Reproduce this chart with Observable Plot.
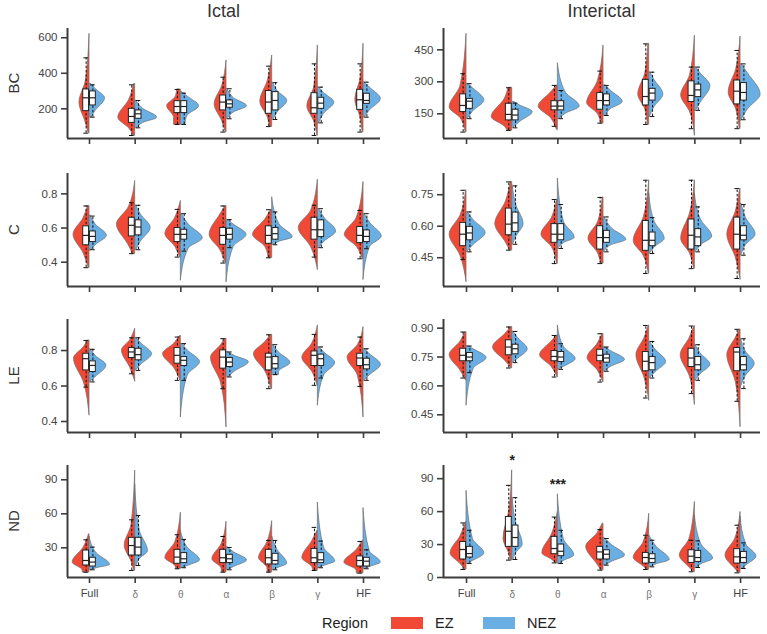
<!DOCTYPE html>
<html><head><meta charset="utf-8">
<script src="https://cdn.jsdelivr.net/npm/d3@7"></script>
<script src="https://cdn.jsdelivr.net/npm/@observablehq/plot@0.6"></script>
<style>
body{margin:0;background:#fff;}
#chart{position:relative;width:767px;height:634px;font-family:"Liberation Sans",Arial,sans-serif;overflow:hidden;}
#chart svg{position:absolute;}
</style></head><body><div id="chart"></div>
<script>
const categories = ["Full","δ","θ","α","β","γ","HF"];
const regions = ["EZ","NEZ"];
const regionColors = ["#F04A36","#69AFE4"];
const columnTitles = ["Ictal","Interictal"];
const metricLabels = ["BC","C","LE","ND"];

// half-violin shape per category: [lo, widthAtLo, bodyLo, mode, bodyHi, hi, widthAtHi, maxWidth]
// box per category: [whiskerLo, q1, median, q3, whiskerHi]
const ictalBC_EZ_shape = [[63,0.02,120,235,360,622,0,0.22],[50,0.03,90,150,250,341,0.02,0.37],[112,0.15,150,215,270,309,0.08,0.3],[69,0.02,130,225,330,472,0,0.26],[100,0.05,150,240,360,500,0,0.26],[50,0.01,130,215,320,557,0,0.23],[69,0.02,150,250,370,566,0,0.18]];
const ictalBC_NEZ_shape = [[153,0.05,185,258,315,341,0.03,0.34],[93,0.05,120,150,200,247,0.02,0.48],[112,0.1,160,215,270,294,0.03,0.4],[144,0.03,180,215,260,313,0.02,0.45],[140,0.03,180,245,300,347,0.02,0.33],[121,0.03,170,235,290,322,0.02,0.36],[153,0.03,190,255,320,350,0.02,0.38]];
const ictalBC_EZ_box = [[63,187,262,309,487],[50,121,157,200,335],[112,176,213,243,309],[69,191,238,275,378],[100,172,238,300,440],[50,172,206,288,453],[69,194,251,307,453]];
const ictalBC_NEZ_box = [[153,219,262,298,335],[93,144,172,191,247],[112,176,213,243,288],[144,206,228,247,313],[140,191,247,294,347],[121,200,232,262,322],[153,228,247,285,350]];

const interBC_EZ_shape = [[64,0.02,130,180,280,525,0,0.37],[72,0.1,90,134,220,272,0.08,0.45],[75,0.02,130,184,250,283,0.02,0.42],[106,0.05,150,200,300,470,0,0.36],[100,0.03,170,240,340,478,0.02,0.24],[48,0,160,236,330,517,0,0.3],[80,0.02,170,250,360,512,0,0.26]];
const interBC_NEZ_shape = [[127,0.03,160,212,270,291,0.03,0.39],[84,0.03,110,158,190,205,0.05,0.45],[127,0.03,150,184,250,387,0,0.48],[142,0.05,170,205,260,283,0.05,0.42],[137,0.02,180,240,310,345,0.02,0.31],[166,0.03,200,280,340,369,0.02,0.34],[119,0.02,170,240,340,384,0.02,0.44]];
const interBC_EZ_box = [[64,158,189,241,338],[72,119,147,197,272],[91,166,186,209,283],[106,169,212,247,350],[100,189,231,309,478],[80,205,236,302,369],[80,194,256,306,447]];
const interBC_NEZ_box = [[127,173,209,220,291],[84,119,144,169,200],[127,166,186,209,259],[142,189,212,241,283],[137,212,247,267,345],[166,228,262,287,369],[122,212,250,294,384]];

const ictalC_EZ_shape = [[0.368,0.02,0.45,0.56,0.66,0.729,0.03,0.35],[0.45,0.05,0.5,0.62,0.72,0.875,0,0.4],[0.43,0.02,0.49,0.565,0.66,0.758,0,0.34],[0.395,0.02,0.47,0.56,0.68,0.729,0.02,0.37],[0.426,0.08,0.49,0.56,0.65,0.707,0.02,0.42],[0.356,0,0.49,0.6,0.7,0.883,0,0.42],[0.42,0.02,0.49,0.56,0.66,0.869,0,0.41]];
const ictalC_NEZ_shape = [[0.469,0.03,0.5,0.555,0.62,0.674,0.02,0.38],[0.473,0.03,0.52,0.6,0.68,0.733,0.02,0.34],[0.294,0,0.48,0.54,0.62,0.684,0.02,0.48],[0.284,0,0.49,0.56,0.62,0.649,0.02,0.44],[0.502,0.03,0.52,0.545,0.62,0.78,0,0.45],[0.485,0.03,0.52,0.58,0.66,0.713,0.02,0.4],[0.298,0,0.49,0.55,0.63,0.684,0.02,0.4]];
const ictalC_EZ_box = [[0.368,0.499,0.557,0.61,0.729],[0.45,0.551,0.616,0.66,0.748],[0.43,0.518,0.563,0.6,0.709],[0.395,0.502,0.557,0.6,0.729],[0.426,0.508,0.557,0.61,0.707],[0.43,0.532,0.59,0.66,0.733],[0.42,0.512,0.557,0.606,0.703]];
const ictalC_NEZ_box = [[0.473,0.518,0.551,0.58,0.67],[0.473,0.557,0.606,0.645,0.733],[0.465,0.532,0.563,0.59,0.684],[0.485,0.532,0.563,0.596,0.649],[0.502,0.532,0.567,0.6,0.694],[0.485,0.547,0.59,0.645,0.713],[0.479,0.518,0.551,0.586,0.684]];

const interC_EZ_shape = [[0.335,0,0.46,0.56,0.65,0.771,0.01,0.37],[0.486,0.05,0.52,0.61,0.72,0.811,0.03,0.37],[0.422,0.02,0.5,0.56,0.64,0.727,0.02,0.36],[0.422,0.05,0.47,0.54,0.62,0.737,0.02,0.33],[0.375,0.01,0.46,0.53,0.64,0.819,0,0.34],[0.398,0.02,0.47,0.54,0.66,0.819,0,0.3],[0.346,0,0.45,0.56,0.67,0.779,0.01,0.29]];
const interC_NEZ_shape = [[0.478,0.02,0.51,0.568,0.63,0.668,0.02,0.42],[0.514,0.02,0.55,0.61,0.7,0.795,0.01,0.25],[0.494,0.02,0.52,0.545,0.62,0.827,0,0.37],[0.478,0.02,0.51,0.535,0.59,0.644,0.02,0.5],[0.47,0.02,0.5,0.54,0.62,0.756,0,0.34],[0.478,0.02,0.51,0.55,0.63,0.756,0,0.38],[0.462,0.02,0.51,0.56,0.64,0.708,0.02,0.33]];
const interC_EZ_box = [[0.441,0.505,0.562,0.616,0.771],[0.486,0.557,0.61,0.684,0.811],[0.422,0.521,0.562,0.61,0.727],[0.422,0.489,0.546,0.6,0.737],[0.375,0.483,0.533,0.625,0.819],[0.398,0.489,0.557,0.632,0.819],[0.351,0.489,0.562,0.641,0.779]];
const interC_NEZ_box = [[0.478,0.533,0.568,0.597,0.668],[0.514,0.573,0.616,0.665,0.792],[0.494,0.533,0.562,0.61,0.703],[0.478,0.521,0.546,0.578,0.644],[0.47,0.505,0.533,0.57,0.641],[0.478,0.505,0.549,0.586,0.692],[0.462,0.533,0.557,0.6,0.703]];

const ictalLE_EZ_shape = [[0.435,0,0.62,0.755,0.82,0.857,0.03,0.34],[0.626,0,0.7,0.8,0.86,0.923,0,0.29],[0.632,0.01,0.7,0.78,0.84,0.882,0.02,0.39],[0.369,0,0.62,0.76,0.83,0.867,0.02,0.34],[0.585,0.02,0.68,0.78,0.85,0.889,0.02,0.4],[0.604,0.01,0.68,0.76,0.84,0.942,0,0.34],[0.425,0,0.66,0.76,0.83,0.932,0,0.35]];
const ictalLE_NEZ_shape = [[0.623,0.02,0.65,0.715,0.77,0.807,0.02,0.37],[0.688,0.02,0.72,0.78,0.84,0.872,0.02,0.37],[0.425,0,0.66,0.735,0.8,0.839,0.02,0.42],[0.651,0.05,0.68,0.735,0.77,0.792,0.02,0.49],[0.664,0.15,0.68,0.73,0.79,0.833,0.02,0.4],[0.491,0,0.66,0.73,0.79,0.82,0.02,0.38],[0.632,0.02,0.66,0.72,0.78,0.81,0.02,0.38]];
const ictalLE_EZ_box = [[0.594,0.688,0.754,0.782,0.857],[0.669,0.758,0.792,0.814,0.872],[0.632,0.726,0.773,0.814,0.876],[0.585,0.698,0.763,0.801,0.867],[0.585,0.688,0.763,0.782,0.889],[0.604,0.713,0.773,0.795,0.891],[0.598,0.713,0.758,0.782,0.876]];
const ictalLE_NEZ_box = [[0.623,0.679,0.716,0.739,0.807],[0.688,0.745,0.777,0.81,0.872],[0.632,0.713,0.745,0.763,0.839],[0.651,0.707,0.735,0.758,0.792],[0.664,0.698,0.726,0.763,0.833],[0.645,0.713,0.754,0.777,0.82],[0.632,0.694,0.72,0.754,0.81]];

const interLE_EZ_shape = [[0.629,0.01,0.68,0.76,0.83,0.88,0.02,0.37],[0.693,0.02,0.73,0.8,0.87,0.906,0.02,0.42],[0.646,0.01,0.7,0.76,0.83,0.862,0.02,0.39],[0.62,0.01,0.68,0.745,0.82,0.871,0.02,0.35],[0.525,0,0.64,0.76,0.85,0.914,0.01,0.28],[0.503,0,0.65,0.76,0.85,0.911,0.01,0.31],[0.387,0,0.62,0.76,0.85,0.894,0.01,0.29]];
const interLE_NEZ_shape = [[0.499,0,0.69,0.745,0.79,0.807,0.03,0.44],[0.721,0.02,0.74,0.79,0.85,0.883,0.02,0.34],[0.686,0.02,0.7,0.74,0.8,0.914,0,0.39],[0.676,0.03,0.7,0.735,0.78,0.802,0.02,0.47],[0.641,0.02,0.67,0.725,0.79,0.831,0.01,0.37],[0.629,0.02,0.66,0.71,0.77,0.814,0.01,0.34],[0.586,0,0.65,0.715,0.78,0.845,0.01,0.31]];
const interLE_EZ_box = [[0.641,0.728,0.759,0.793,0.88],[0.693,0.759,0.802,0.837,0.906],[0.646,0.728,0.753,0.781,0.862],[0.62,0.728,0.759,0.788,0.871],[0.537,0.676,0.728,0.776,0.914],[0.56,0.698,0.745,0.793,0.911],[0.52,0.676,0.776,0.797,0.894]];
const interLE_NEZ_box = [[0.669,0.728,0.75,0.771,0.807],[0.721,0.764,0.793,0.814,0.883],[0.686,0.724,0.75,0.776,0.819],[0.676,0.721,0.745,0.762,0.802],[0.641,0.681,0.721,0.75,0.831],[0.629,0.681,0.71,0.75,0.814],[0.586,0.681,0.71,0.75,0.845]];

const ictalND_EZ_shape = [[8.5,0.15,10,17,30,42,0.01,0.37],[10,0.02,18,32,50,98,0,0.23],[11.5,0.1,14,21,35,61,0,0.34],[8.5,0.1,12,20,33,53,0,0.31],[8.5,0.1,12,21,35,53.5,0,0.29],[10,0.1,13,21,36,45,0.01,0.34],[7.7,0.15,10,17,28,36.5,0.01,0.42]];
const ictalND_NEZ_shape = [[10.6,0.05,12,15,25,40,0,0.45],[14.4,0.03,20,27,45,86,0,0.28],[12.4,0.05,14,19,30,45,0,0.42],[10.6,0.05,13,19,26,30.6,0.02,0.45],[10.6,0.05,12,16,28,40,0,0.33],[12.4,0.05,14,18,30,70,0,0.38],[11.5,0.05,13,17,27,65,0,0.38]];
const ictalND_EZ_box = [[8.5,14.4,18.8,27.6,37],[10,23.2,32,38.8,54.7],[11.5,15.9,21.8,28.2,41.5],[8.5,16.5,21.2,28.2,40],[8.5,15.3,21.2,28.2,36.5],[10,16.5,21.2,29,48],[7.7,13.5,18.8,22.4,35.6]];
const ictalND_NEZ_box = [[10.6,13.5,17.4,21.2,30.6],[14.4,23.2,30.6,38.8,58.5],[12.4,16.5,20.3,25.3,37.4],[10.6,16.5,20.3,23.8,30.3],[10.6,15.3,18.8,24.7,36.5],[12.4,16.5,19.4,25.3,35.9],[11.5,13.5,18.2,21.2,28.2]];

const interND_EZ_shape = [[7.3,0.03,12,22,38,50.6,0.01,0.35],[15.8,0.03,22,35,60,97.6,0,0.19],[13.3,0.05,16,22,40,59.7,0,0.34],[6.7,0.05,12,28,40,49,0.02,0.38],[7.3,0.05,10,18,32,58,0,0.34],[5.2,0.03,9,20,35,68.8,0,0.33],[4.2,0.03,8,20,35,59.7,0,0.33]];
const interND_NEZ_shape = [[12.7,0.03,15,22,35,79,0,0.39],[16.4,0.03,22,30,50,72.7,0.01,0.23],[12.7,0.05,15,20,35,75.8,0,0.36],[11.2,0.05,14,20,30,36,0.02,0.47],[9.7,0.05,12,16,28,38.5,0,0.45],[9.1,0.05,12,17,30,56.7,0,0.4],[8.2,0.05,11,19,30,55.8,0,0.35]];
const interND_EZ_box = [[7.3,16.4,25.5,32.4,49.7],[15.8,27.9,42.1,55.1,83.9],[13.3,21.2,26.4,37,55],[6.7,16.4,23.3,27.9,43.6],[7.3,12.7,18.2,22.4,38.5],[5.2,13.3,19.4,24.8,33.9],[4.2,12.7,18.8,25.8,47.6]];
const interND_NEZ_box = [[12.7,18.2,21.8,27.9,43],[16.4,27.9,36.4,47.3,72.7],[12.7,19.4,23.9,30,43],[11.2,16.4,21.2,24.8,35.5],[9.7,13.3,17.3,21.2,33.9],[9.1,14.2,18.2,24.2,33.3],[8.2,13.3,18.2,23.3,31.5]];

// significance marks (Interictal ND)
const sigLabels = ["*","***"];
const sigCategories = ["δ","θ"];
const sigValues = [106.5, 85];

// y-axis ticks per panel
const ticksBC_ictal = [200,400,600], ticksBC_inter = [150,300,450];
const ticksC_ictal = [0.4,0.6,0.8], ticksC_inter = [0.45,0.60,0.75];
const ticksLE_ictal = [0.4,0.6,0.8], ticksLE_inter = [0.45,0.60,0.75,0.90];
const ticksND_ictal = [30,60,90], ticksND_inter = [0,30,60,90];

const panels = [
  {row:0,col:0,y:[33,652],ticks:ticksBC_ictal,fmt:"d",ez:[ictalBC_EZ_shape,ictalBC_EZ_box],nez:[ictalBC_NEZ_shape,ictalBC_NEZ_box]},
  {row:0,col:1,y:[34,550],ticks:ticksBC_inter,fmt:"d",ez:[interBC_EZ_shape,interBC_EZ_box],nez:[interBC_NEZ_shape,interBC_NEZ_box]},
  {row:1,col:0,y:[0.258,0.919],ticks:ticksC_ictal,fmt:".1f",ez:[ictalC_EZ_shape,ictalC_EZ_box],nez:[ictalC_NEZ_shape,ictalC_NEZ_box]},
  {row:1,col:1,y:[0.313,0.851],ticks:ticksC_inter,fmt:".2f",ez:[interC_EZ_shape,interC_EZ_box],nez:[interC_NEZ_shape,interC_NEZ_box]},
  {row:2,col:0,y:[0.338,0.975],ticks:ticksLE_ictal,fmt:".1f",ez:[ictalLE_EZ_shape,ictalLE_EZ_box],nez:[ictalLE_NEZ_shape,ictalLE_NEZ_box]},
  {row:2,col:1,y:[0.358,0.945],ticks:ticksLE_inter,fmt:".2f",ez:[interLE_EZ_shape,interLE_EZ_box],nez:[interLE_NEZ_shape,interLE_NEZ_box]},
  {row:3,col:0,y:[3.8,102.6],ticks:ticksND_ictal,fmt:"d",ez:[ictalND_EZ_shape,ictalND_EZ_box],nez:[ictalND_NEZ_shape,ictalND_NEZ_box]},
  {row:3,col:1,y:[0,102],ticks:ticksND_inter,fmt:"d",ez:[interND_EZ_shape,interND_EZ_box],nez:[interND_NEZ_shape,interND_NEZ_box],sig:true}
];

const rowsGeom = [{top:28,bottom:138},{top:173,bottom:286},{top:319,bottom:432},{top:465,bottom:577}];
const colsGeom = [
  {left:0,width:385,mL:67,mR:5,xd:[-0.482,6.372]},
  {left:383,width:384,mL:60,mR:7,xd:[-0.504,6.437]}
];

function shapeRows(spec, side, region){
  const out=[];
  spec.forEach((v,i)=>{
    const [lo,loW,bLo,mode,bHi,hi,hiW,w]=v;
    const pts=[[lo,loW],[bLo,Math.max(loW,0.36*w)],[mode,w],[bHi,Math.max(hiW,0.36*w)],[hi,hiW]];
    let last=-Infinity;
    for(const [y,ww] of pts){ if(y>last){ out.push({key:region+i,region,y,c:i,x:i+side*ww}); last=y; } }
  });
  return out;
}
function boxRows(spec, side, region){
  return spec.map((b,i)=>({region,i,bx:i+side*0.074,wlo:b[0],q1:b[1],med:b[2],q3:b[3],whi:b[4]}));
}

const chart=document.getElementById("chart");
const BW=0.064, CAP=0.05;
const latinTicks=[0,6], greekTicks=[1,2,3,4,5];
for(const p of panels){
  const rg=rowsGeom[p.row], cg=colsGeom[p.col];
  const mt=12, mb=p.row===3?32:12;
  const vdata=[...shapeRows(p.ez[0],-1,"EZ"),...shapeRows(p.nez[0],1,"NEZ")];
  const bdata=[...boxRows(p.ez[1],-1,"EZ"),...boxRows(p.nez[1],1,"NEZ")];
  const last=p.row===3;
  const marks=[
    Plot.areaX(vdata,{y:"y",x1:"c",x2:"x",z:"key",fill:"region",stroke:"#6e6e6e",strokeWidth:0.7,curve:"monotone-y"}),
    Plot.ruleX(bdata,{x:"bx",y1:"wlo",y2:"whi",stroke:"#111",strokeWidth:1,strokeDasharray:"2.5,1.8"}),
    Plot.ruleY(bdata,{y:"whi",x1:d=>d.bx-CAP,x2:d=>d.bx+CAP,stroke:"#111",strokeWidth:1}),
    Plot.ruleY(bdata,{y:"wlo",x1:d=>d.bx-CAP,x2:d=>d.bx+CAP,stroke:"#111",strokeWidth:1}),
    Plot.rect(bdata,{x1:d=>d.bx-BW,x2:d=>d.bx+BW,y1:"q1",y2:"q3",fill:"white",stroke:"#222",strokeWidth:1}),
    Plot.ruleY(bdata,{y:"med",x1:d=>d.bx-BW,x2:d=>d.bx+BW,stroke:"#222",strokeWidth:1.2}),
    Plot.ruleX([cg.xd[0]],{stroke:"#3d3d3d",strokeWidth:2}),
    Plot.ruleY([p.y[0]],{stroke:"#3d3d3d",strokeWidth:2}),
    Plot.axisY(p.ticks,{tickSize:6,tickPadding:4,strokeWidth:1.6,stroke:"#3d3d3d",fill:"#444",fontSize:11.5,tickFormat:d3.format(p.fmt),label:null}),
    Plot.axisX(latinTicks,{tickSize:6,tickPadding:6,strokeWidth:1.6,stroke:"#3d3d3d",fill:"#444",fontSize:11,tickFormat:last?(i=>categories[i]):(()=>""),label:null}),
    Plot.axisX(greekTicks,{tickSize:6,tickPadding:7,strokeWidth:1.6,stroke:"#3d3d3d",fill:"#777",fontSize:10,tickFormat:last?(i=>categories[i]):(()=>""),label:null})
  ];
  if(p.sig){
    const sdata=sigLabels.map((t,k)=>({t,c:categories.indexOf(sigCategories[k]),v:sigValues[k]}));
    marks.push(Plot.text(sdata,{x:"c",y:"v",text:"t",fontSize:14,fontWeight:"bold",fill:"#222"}));
  }
  const svg=Plot.plot({
    width:cg.width,height:(rg.bottom-rg.top)+mt+mb,
    marginLeft:cg.mL,marginRight:cg.mR,marginTop:mt,marginBottom:mb,
    x:{domain:cg.xd,axis:null},
    y:{domain:p.y,axis:null},
    color:{domain:regions,range:regionColors},
    style:{background:"transparent",overflow:"visible",fontFamily:"'Liberation Sans', Arial, sans-serif",color:"#444"},
    marks
  });
  svg.style.left=cg.left+"px";
  svg.style.top=(rg.top-mt)+"px";
  chart.appendChild(svg);
}

// overlay: titles, row labels, legend
const ov=d3.select(chart).append("svg").attr("width",767).attr("height",634)
  .style("left","0px").style("top","0px").style("pointer-events","none")
  .style("font-family","'Liberation Sans', Arial, sans-serif");
const titleX=[223.5,601.5];
columnTitles.forEach((t,k)=>ov.append("text").attr("x",titleX[k]).attr("y",11).attr("text-anchor","middle")
  .attr("dominant-baseline","central").attr("font-size",18).attr("fill","#333").text(t));
metricLabels.forEach((t,k)=>{
  const cy=(rowsGeom[k].top+rowsGeom[k].bottom)/2;
  ov.append("text").attr("transform",`translate(13,${cy}) rotate(-90)`).attr("text-anchor","middle")
    .attr("dominant-baseline","central").attr("font-size",15).attr("fill","#333").text(t);
});
const lg=ov.append("g");
lg.append("text").attr("x",322).attr("y",623).attr("dominant-baseline","central").attr("font-size",14.5).attr("fill","#222").text("Region");
const swX=[391,483], txX=[435,527];
regions.forEach((r,k)=>{
  lg.append("rect").attr("x",swX[k]).attr("y",617).attr("width",32).attr("height",12).attr("fill",regionColors[k]);
  lg.append("text").attr("x",txX[k]).attr("y",623).attr("dominant-baseline","central").attr("font-size",14.5).attr("fill","#222").text(r);
});
</script></body></html>
